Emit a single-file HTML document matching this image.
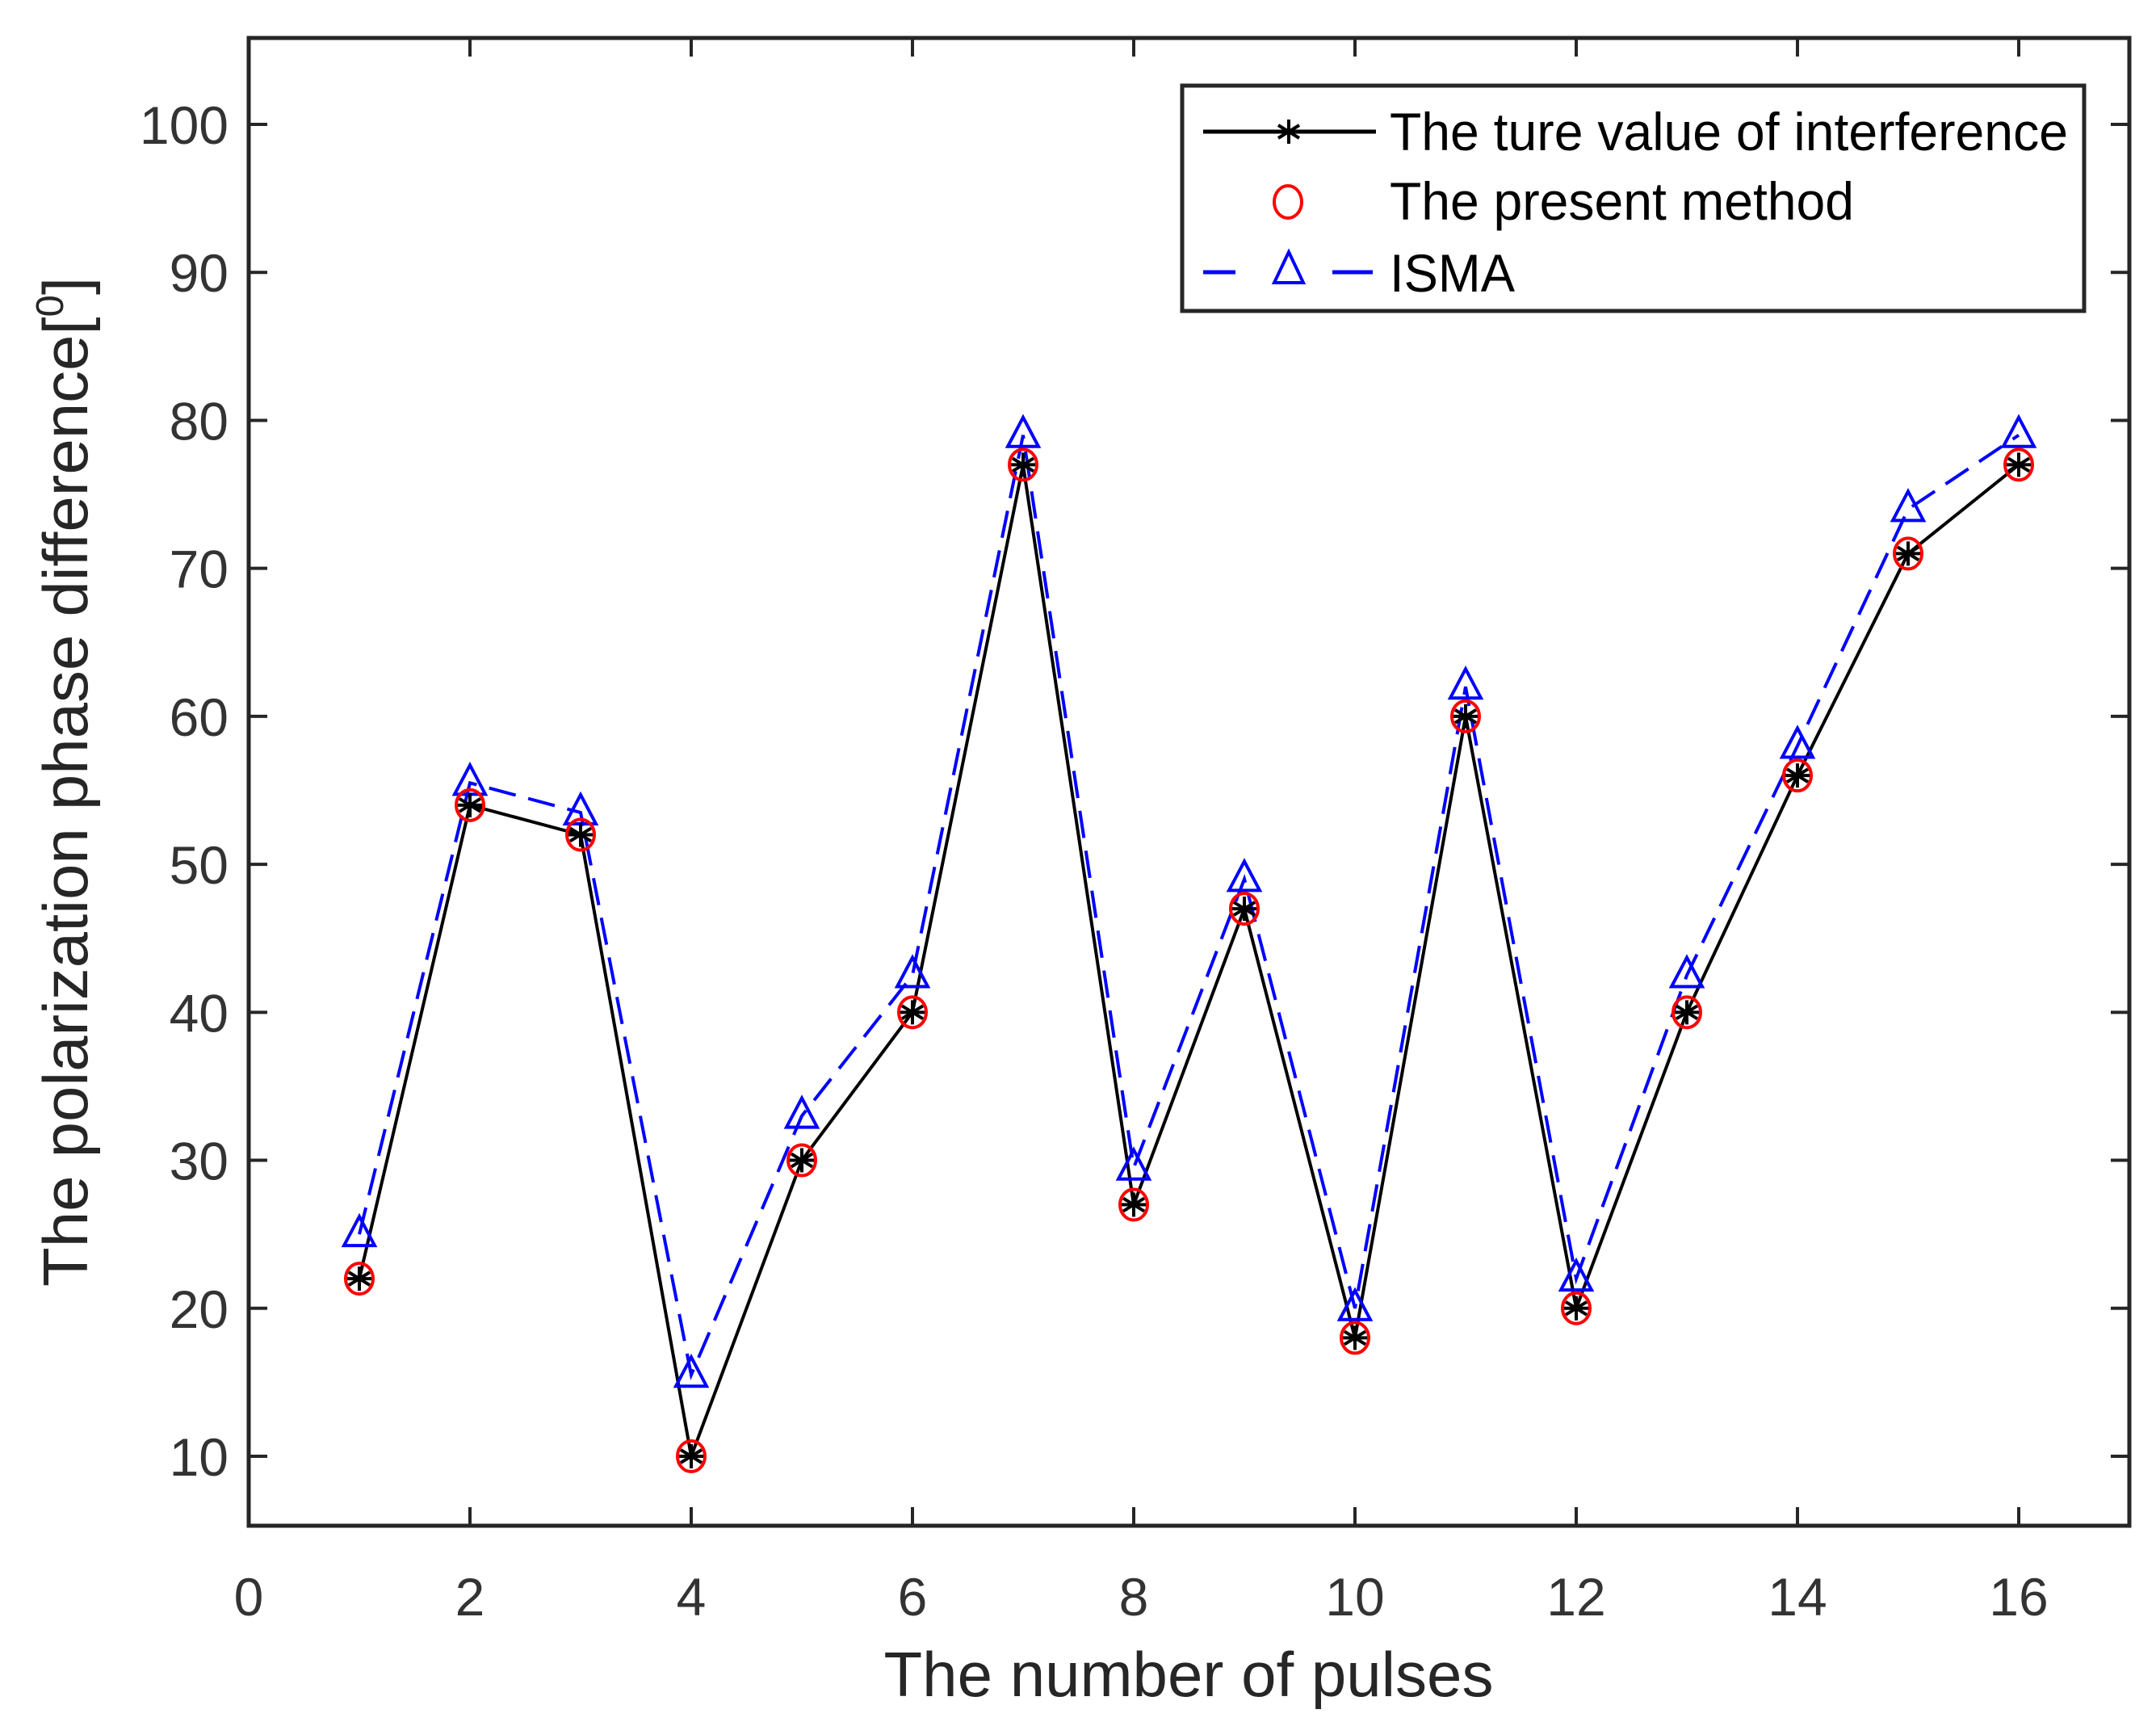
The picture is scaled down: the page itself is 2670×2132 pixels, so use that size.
<!DOCTYPE html>
<html><head><meta charset="utf-8"><style>html,body{margin:0;padding:0;background:#fff}svg{display:block}</style></head>
<body>
<svg id="chart" width="2670" height="2132" viewBox="0 0 2670 2132" xmlns="http://www.w3.org/2000/svg" font-family="'Liberation Sans', sans-serif">
<rect x="0" y="0" width="2670" height="2132" fill="#fff"/>
<g id="series"></g>
<rect x="308" y="47" width="2329" height="1842" fill="none" stroke="#262626" stroke-width="5"/>
<g id="ticks"></g>
<text x="1472" y="2100" font-size="78" fill="#262626" text-anchor="middle" textLength="755" lengthAdjust="spacingAndGlyphs">The number of pulses</text>
<text transform="translate(108,968) rotate(-90)" font-size="78" fill="#262626" text-anchor="middle" textLength="1250" lengthAdjust="spacingAndGlyphs">The polarization phase difference[<tspan font-size="48" dy="-30">0</tspan><tspan dy="30">]</tspan></text>
<g>
<rect x="1464" y="106" width="1117" height="279" fill="#fff" stroke="#262626" stroke-width="5"/>
<g>
<line x1="1490" y1="163" x2="1704" y2="163" stroke="#000" stroke-width="5"/>
<path d="M1596 148V178M1583 155L1609 171M1583 171L1609 155M1581 163H1611" stroke="#000" stroke-width="4"/>
<text x="1721" y="186" font-size="66" fill="#000" textLength="840" lengthAdjust="spacingAndGlyphs">The ture value of interference</text>
</g>
<g>
<ellipse cx="1595" cy="250" rx="17" ry="20" fill="none" stroke="#f00" stroke-width="4"/>
<text x="1721" y="272" font-size="66" fill="#000" textLength="575" lengthAdjust="spacingAndGlyphs">The present method</text>
</g>
<g>
<line x1="1490" y1="337" x2="1530" y2="337" stroke="#00f" stroke-width="5"/>
<line x1="1650" y1="337" x2="1700" y2="337" stroke="#00f" stroke-width="5"/>
<path d="M1596 312L1614 350L1578 350Z" fill="none" stroke="#00f" stroke-width="4"/>
<text x="1721" y="361" font-size="66" fill="#000" textLength="155" lengthAdjust="spacingAndGlyphs">ISMA</text>
</g>
</g>
</svg>
<script>
const pulses = [1,2,3,4,5,6,7,8,9,10,11,12,13,14,15,16];
const trueValues = [22,54,52,10,30,40,77,27,47,18,60,20,40,56,71,77];
const presentValues = [22,54,52,10,30,40,77,27,47,18,60,20,40,56,71,77];
const ismaValues = [25,55.5,53.5,15.5,33,42.5,79,29.5,49,20,62,22,42.5,58,74,79];
const xTicks = [0,2,4,6,8,10,12,14,16];
const yTicks = [10,20,30,40,50,60,70,80,90,100];

const NS = 'http://www.w3.org/2000/svg';
const X0 = 308, XU = 137;
const Y100 = 154, Y10 = 1803;
function sx(v){ return X0 + v*XU; }
function sy(v){ return Y10 + (v-10)*(Y100-Y10)/90; }
function mk(tag, attrs, parent){ const e=document.createElementNS(NS,tag); for(const k in attrs) e.setAttribute(k,attrs[k]); parent.appendChild(e); return e; }

const ticks = document.getElementById('ticks');
xTicks.forEach(t=>{
  const l = mk('line',{x1:sx(t),x2:sx(t),y1:1889,y2:1866,stroke:'#262626','stroke-width':4},ticks);
  
  
  const l2 = mk('line',{x1:sx(t),x2:sx(t),y1:47,y2:70,stroke:'#262626','stroke-width':4},ticks);
  
  
  const tx = mk('text',{x:sx(t),y:2000,'font-size':66,fill:'#333','text-anchor':'middle'},ticks);
  tx.textContent = t;
  
  
});
yTicks.forEach(t=>{
  const l = mk('line',{x1:308,x2:331,y1:sy(t),y2:sy(t),stroke:'#262626','stroke-width':4},ticks);
  
  
  const l2 = mk('line',{x1:2637,x2:2614,y1:sy(t),y2:sy(t),stroke:'#262626','stroke-width':4},ticks);
  
  
  const tx = mk('text',{x:283,y:sy(t)+24,'font-size':66,fill:'#333','text-anchor':'end'},ticks);
  tx.textContent = t;
  
  
});

const g = document.getElementById('series');
const ip = mk('polyline',{points:pulses.map((p,i)=>sx(p)+','+sy(ismaValues[i])).join(' '),fill:'none',stroke:'#00f','stroke-width':4,'stroke-dasharray':'34,16'},g);


const tp = mk('polyline',{points:pulses.map((p,i)=>sx(p)+','+sy(trueValues[i])).join(' '),fill:'none',stroke:'#000','stroke-width':4},g);


pulses.forEach((p,i)=>{
  const x=sx(p), y=sy(ismaValues[i]);
  const tri = mk('path',{d:`M${x} ${y-22}L${x+19} ${y+14}L${x-19} ${y+14}Z`,fill:'none',stroke:'#00f','stroke-width':4},g);
  
  
});
pulses.forEach((p,i)=>{
  const x=sx(p), y=sy(presentValues[i]);
  const c = mk('ellipse',{cx:x,cy:y,rx:17,ry:19,fill:'none',stroke:'#f00','stroke-width':4},g);
  
  
});
pulses.forEach((p,i)=>{
  const x=sx(p), y=sy(trueValues[i]);
  const s = mk('path',{d:`M${x} ${y-15}V${y+15}M${x-13} ${y-8}L${x+13} ${y+8}M${x-13} ${y+8}L${x+13} ${y-8}M${x-15} ${y}H${x+15}`,stroke:'#000','stroke-width':4},g);
  
  
});
</script>
</body></html>
